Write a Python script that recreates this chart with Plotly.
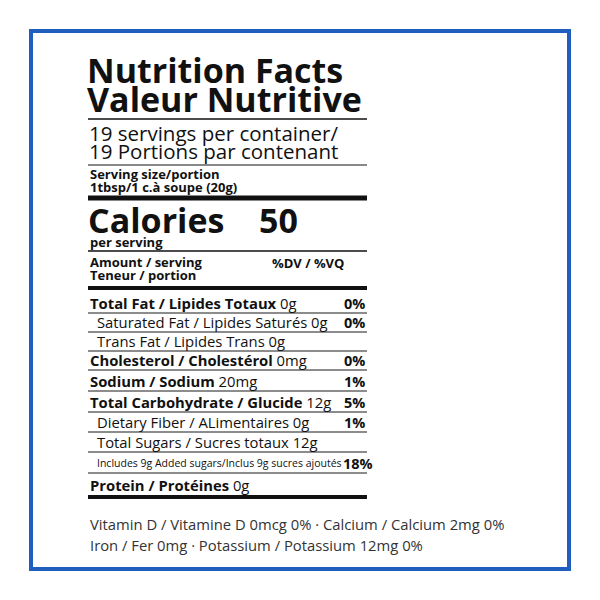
import plotly.graph_objects as go

title_lines = ["Nutrition Facts", "Valeur Nutritive"]
servings_lines = ["19 servings per container/", "19 Portions par contenant"]
serving_size = ["Serving size/portion", "1tbsp/1 c.à soupe (20g)"]
calories = "50"
nutr_bold = ["Total Fat / Lipides Totaux", "", "", "Cholesterol / Cholestérol", "Sodium / Sodium",
             "Total Carbohydrate / Glucide", "", "", "", "Protein / Protéines"]
nutr_reg = ["0g", "Saturated Fat / Lipides Saturés 0g", "Trans Fat / Lipides Trans 0g", "0mg", "20mg",
            "12g", "Dietary Fiber / ALimentaires 0g", "Total Sugars / Sucres totaux 12g",
            "Includes 9g Added sugars/Inclus 9g sucres ajoutés", "0g"]
nutr_dv = ["0%", "0%", "", "0%", "1%", "5%", "1%", "", "18%", ""]
row_y = [303, 322, 341, 360, 381, 402, 422, 442, 463, 485]
line_y = [313, 332, 351, 370, 391, 412, 432, 452, 473]
vitamins = ["Vitamin D / Vitamine D 0mcg 0% · Calcium / Calcium 2mg 0%",
            "Iron / Fer 0mg · Potassium / Potassium 12mg 0%"]

F = "Open Sans"
X0, X1 = 88, 367
fig = go.Figure()
ann = []
shapes = []

def txt(x, y, t, size, bold=False, anchor="left", color="#111"):
    ann.append(dict(x=x, y=y, text=f"<b>{t}</b>" if bold else t, showarrow=False, xanchor=anchor,
                    yanchor="middle", font=dict(family=F, size=size, color=color)))

def hline(y, w=1, color="#333"):
    shapes.append(dict(type="line", x0=X0, x1=X1, y0=y, y1=y, line=dict(color=color, width=w)))

shapes.append(dict(type="rect", x0=31, x1=569, y0=31, y1=569, line=dict(color="#1f5fbf", width=4)))
txt(X0 - 3, 70, title_lines[0], 34, True)
txt(X0 - 3, 99, title_lines[1], 34, True)
hline(119, 1.5, "#111")
txt(X0 - 1, 133, servings_lines[0], 20.5)
txt(X0 - 1, 151, servings_lines[1], 20.5)
hline(165, 1, "#111")
txt(X0, 174, serving_size[0], 13, True)
txt(X0, 187, serving_size[1], 13, True)
hline(198, 5, "#111")
txt(X0 - 2, 220, "Calories", 34, True)
txt(257, 220, calories, 34, True)
txt(X0, 242, "per serving", 13, True)
hline(251, 1.5, "#111")
txt(X0, 262, "Amount / serving", 13, True)
txt(X0, 275, "Teneur / portion", 13, True)
txt(270, 263, "%DV / %VQ", 13, True)
hline(288, 4, "#111")
for i in range(len(row_y)):
    y = row_y[i]
    indent = nutr_bold[i] == ""
    size = 10.5 if i == 8 else 14.8
    if indent:
        t = nutr_reg[i]
        x = 95
    else:
        t = f"<b>{nutr_bold[i]}</b> {nutr_reg[i]}"
        x = X0
    txt(x, y, t, size)
    if nutr_dv[i]:
        txt(X1 + (8 if i == 8 else 0), y, nutr_dv[i], 14.5, True, "right")
for y in line_y:
    hline(y, 1.5, "#666")
hline(497, 4, "#111")
txt(X0, 524, vitamins[0], 14.8, color="#333")
txt(X0, 545, vitamins[1], 14.8, color="#333")

fig.update_layout(width=600, height=600, margin=dict(l=0, r=0, t=0, b=0),
                  paper_bgcolor="white", plot_bgcolor="white",
                  xaxis=dict(range=[8, 608], visible=False, fixedrange=True),
                  yaxis=dict(range=[608, 8], visible=False, fixedrange=True),
                  annotations=ann, shapes=shapes, showlegend=False)
fig.write_html("out.html")
